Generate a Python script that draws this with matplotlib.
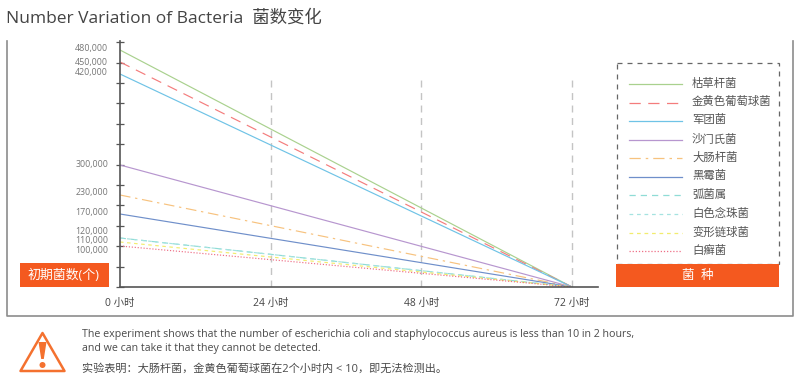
import numpy as np
import matplotlib
matplotlib.use('Agg')
import matplotlib.pyplot as plt
from matplotlib.patches import Polygon, Rectangle, Circle

plt.rcParams['font.family'] = ['Open Sans', 'Noto Sans CJK SC', 'DejaVu Sans']

horas = [0, 72]
horas_ticks = [0, 24, 48, 72]
horas_labels = ['0 小时', '24 小时', '48 小时', '72 小时']

nombres = ['枯草杆菌', '金黄色葡萄球菌', '军团菌', '沙门氏菌', '大肠杆菌',
           '黑霉菌', '弧菌属', '白色念珠菌', '变形链球菌', '白癣菌']
inicial = [480000, 450000, 420000, 300000, 230000,
           170000, 120000, 120000, 110000, 100000]
final = [0, 0, 0, 0, 0, 0, 0, 0, 0, 0]

colores = ['#a9d18e', '#f47c7c', '#6fc3e6', '#b796cf', '#f7c27e',
           '#6f8fca', '#8fdcd6', '#a5e3e0', '#f2ec6e', '#ee6f86']
estilos = ['-', (0, (9, 6)), '-', '-', (0, (9, 4, 2, 4)),
           '-', (0, (5, 4)), (0, (3, 3)), (0, (3, 3)), (0, (1, 1.5))]

# etiquetas del eje y (en la imagen no caen en una escala lineal)
y_labels = ['480,000', '450,000', '420,000', '300,000', '230,000',
            '170,000', '120,000', '110,000', '100,000']
y_labels_px = [49, 62, 73, 165, 193, 213, 231.5, 241, 250.5]

# la escala del original es por tramos
valores_k = [0, 100000, 110000, 120000, 170000, 230000, 300000, 420000, 450000, 480000, 520000]
alturas_k = [0, 41, 45, 49, 73, 92, 122, 213, 225, 237, 246]

def adelante(v):
    return np.interp(v, valores_k, alturas_k)

def atras(h):
    return np.interp(h, alturas_k, valores_k)

W, H = 800, 381
fig = plt.figure(figsize=(8, 3.81), dpi=100)

# capa de fondo en pixeles
bg = fig.add_axes([0, 0, 1, 1])
bg.set_xlim(0, W)
bg.set_ylim(H, 0)
bg.axis('off')

# grafica
x0, x1, y_top, y_base = 120, 598, 41, 287
ax = fig.add_axes([x0 / W, 1 - y_base / H, (x1 - x0) / W, (y_base - y_top) / H])
ax.patch.set_alpha(0)
ax.set_yscale('function', functions=(adelante, atras))
ax.set_xlim(0, 72 * (x1 - x0) / (572 - x0))
ax.set_ylim(0, 520000)

for i in range(len(nombres)):
    ax.plot(horas, [inicial[i], final[i]], color=colores[i], linestyle=estilos[i], linewidth=0.85)

for h in horas_ticks[1:]:
    ax.plot([h, h], [0, atras(209)], color='#c4c4c4', linestyle=(0, (5, 4)), linewidth=1.0, zorder=1)

for lado in ['top', 'right']:
    ax.spines[lado].set_visible(False)
for lado in ['left', 'bottom']:
    ax.spines[lado].set_color('#555555')
    ax.spines[lado].set_linewidth(1.2)

ax.set_yticks(atras(np.arange(0, 13) * 20.4))
ax.set_yticklabels([])
ax.minorticks_off()
ax.tick_params(axis='y', direction='inout', length=5.5, width=0.9, color='#555555')
ax.set_xticks(horas_ticks)
ax.set_xticklabels(horas_labels, fontsize=7.5, color='#444444')
ax.tick_params(axis='x', length=0, pad=8)

for txt, yp in zip(y_labels, y_labels_px):
    bg.text(108, yp, txt, ha='right', va='center', fontsize=6.4, color='#777777')

# titulo
bg.text(6, 18, 'Number Variation of Bacteria  菌数变化', fontsize=12.55, color='#444444', va='center')

# marco
bg.plot([7, 7, 792.5, 792.5], [41, 315.5, 315.5, 41], color='#8c8c8c', linewidth=1.2)

# leyenda
bg.add_patch(Rectangle((616.5, 63), 162, 201, fill=False, edgecolor='#666666',
                       linewidth=0.9, linestyle=(0, (4, 4))))
filas = [84, 102.5, 121, 140, 158, 177, 195, 214, 233, 251]
for i in range(len(nombres)):
    bg.plot([629, 682], [filas[i], filas[i]], color=colores[i], linestyle=estilos[i], linewidth=0.9)
    bg.text(692, filas[i], nombres[i], fontsize=8.2, color='#555555', va='center')

# cajas naranjas
bg.add_patch(Rectangle((20, 263), 88.5, 24, color='#f4591f', linewidth=0))
bg.text(64, 275, '初期菌数(个)', fontsize=9.3, color='white', ha='center', va='center')
bg.add_patch(Rectangle((616, 264), 163, 23, color='#f4591f', linewidth=0))
bg.text(698, 275, '菌  种', fontsize=9, color='white', ha='center', va='center')

# icono de aviso
bg.add_patch(Polygon([[42.5, 333], [20.5, 371], [64.5, 371]], closed=True, fill=False,
                     edgecolor='#f4712f', linewidth=1.8, joinstyle='round'))
bg.add_patch(Polygon([[38.5, 342], [46.5, 342], [43.8, 359], [41.2, 359]], closed=True,
                     color='#f4712f', linewidth=0))
bg.add_patch(Circle((42.5, 365), 3.0, color='#f4712f', linewidth=0))

# nota
bg.text(82, 334.5, 'The experiment shows that the number of escherichia coli and staphylococcus aureus is less than 10 in 2 hours,',
        fontsize=7.65, color='#4a4a4a', va='center')
bg.text(82, 348.5, 'and we can take it that they cannot be detected.', fontsize=7.65, color='#4a4a4a', va='center')
bg.text(82, 369, '实验表明：大肠杆菌，金黄色葡萄球菌在2个小时内 < 10，即无法检测出。', fontsize=8.0, color='#4a4a4a', va='center')

fig.savefig('out.png', dpi=100)
